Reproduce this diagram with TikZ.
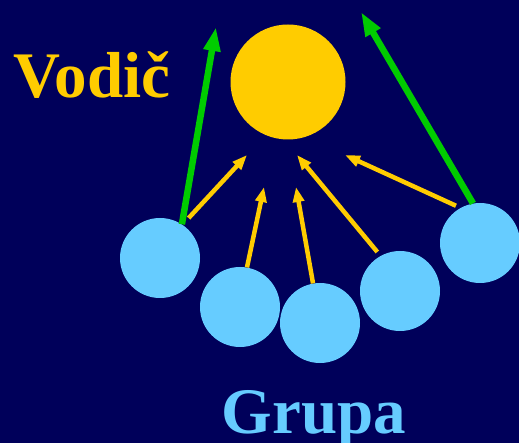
\documentclass[tikz,border=0pt]{standalone}
\usepackage{fontspec}
\setmainfont{Liberation Serif}
\usepackage{tikz}
\usetikzlibrary{arrows.meta, positioning}
\definecolor{mynavy}{RGB}{0,0,90}
\definecolor{myyellow}{RGB}{255,204,0}
\definecolor{myblue}{RGB}{102,204,255}
\definecolor{mygreen}{RGB}{0,204,0}
\tikzset{
  leader/.style={circle, fill=myyellow, minimum size=115pt, inner sep=0pt},
  member/.style={circle, fill=myblue, minimum size=80pt, inner sep=0pt},
  pull/.style={-{Triangle[width=11pt,length=15pt]}, line width=4.5pt, color=myyellow},
  lead/.style={-{Triangle[width=16pt,length=24pt]}, line width=6.5pt, color=mygreen},
  bigtext/.style={font=\fontsize{65}{70}\selectfont\bfseries, inner sep=0pt}
}
\begin{document}
\begin{tikzpicture}[x=1pt, y=-1pt]
  % Background
  \fill[mynavy] (0,0) rectangle (519,443);
  \useasboundingbox (0,0) rectangle (519,443);

  % Leader and group
  \node[leader] (sun) at (288,82) {};
  \node[member] (m1) at (160,258) {};
  \node[member] (m2) at (240,307) {};
  \node[member] (m3) at (320,323) {};
  \node[member] (m4) at (400,291) {};
  \node[member] (m5) at (480,243) {};

  % Labels
  \node[bigtext, text=myyellow, anchor=base] (vodic) at (92,98) {Vodič};
  \node[bigtext, text=myblue, anchor=base] (grupa) at (314,433) {Grupa};

  % Arrow tips
  \coordinate (t1) at (216,27);
  \coordinate (t2) at (361,12);
  \coordinate (a1) at (247,155);
  \coordinate (a2) at (264,187);
  \coordinate (a3) at (296,187);
  \coordinate (a4) at (297,155);
  \coordinate (a5) at (345,155);

  % Connections
  \draw[lead] (m1.57) -- (t1);
  \draw[lead] (m5.100) -- (t2);
  \draw[pull, shorten <=9pt] (m1.56) -- (a1);
  \draw[pull] (m2.80) -- (a2);
  \draw[pull] (m3.100) -- (a3);
  \draw[pull, shorten <=5pt] (m4.119) -- (a4);
  \draw[pull, shorten <=5pt] (m5.119) -- (a5);
\end{tikzpicture}
\end{document}
